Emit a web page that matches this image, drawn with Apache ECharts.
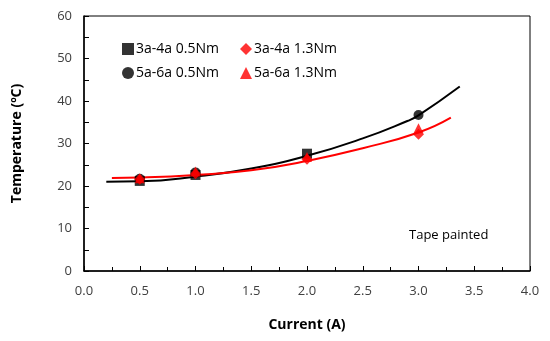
<!DOCTYPE html>
<html><head><meta charset="utf-8">
<script src="https://cdn.jsdelivr.net/npm/echarts@6/dist/echarts.min.js"></script>
<style>html,body{margin:0;padding:0;background:#fff}#c{width:550px;height:341px}</style>
</head><body><div id="c"></div>
<script>
const xTicks = [0, 0.5, 1.0, 1.5, 2.0, 2.5, 3.0, 3.5, 4.0];
const yTicks = [0, 10, 20, 30, 40, 50, 60];
const seriesNames = ['3a-4a 0.5Nm', '5a-6a 0.5Nm', '3a-4a 1.3Nm', '5a-6a 1.3Nm'];
const sq34_05 = [[0.5, 21.2], [1.0, 22.6], [2.0, 27.6]];
const ci56_05 = [[0.5, 21.7], [1.0, 23.2], [3.0, 36.7]];
const di34_13 = [[0.5, 21.6], [1.0, 22.9], [2.0, 26.3], [3.0, 32.2]];
const tr56_13 = [[0.5, 21.8], [1.0, 23.4], [2.0, 26.8], [3.0, 33.6]];
const trendBlack = [[0.2, 21.0], [0.5, 21.1], [1.0, 22.2], [1.5, 24.1], [2.0, 27.1], [2.5, 31.2], [2.9, 35.3], [3.0, 36.6], [3.37, 43.4]];
const trendRed = [[0.25, 21.9], [0.5, 22.0], [1.0, 22.6], [1.5, 23.7], [2.0, 25.9], [2.5, 28.9], [3.0, 32.6], [3.29, 36.1]];
const note = 'Tape painted';

const FONT = 'Open Sans';
const chart = echarts.init(document.getElementById('c'));
chart.setOption({
  animation: false,
  textStyle: {fontFamily: FONT},
  grid: {left: 84, right: 20, top: 16, bottom: 70, show: true, borderColor: '#000', borderWidth: 1, backgroundColor: 'transparent'},
  legend: [
    {orient: 'vertical', left: 117, top: 37, itemGap: 10, itemWidth: 12, itemHeight: 12,
     data: [seriesNames[0], seriesNames[1]], textStyle: {fontFamily: FONT, fontSize: 14, color: '#000', padding: [0, 0, 0, -3]}},
    {orient: 'vertical', left: 235, top: 37, itemGap: 10, itemWidth: 12, itemHeight: 12,
     data: [seriesNames[2], seriesNames[3]], textStyle: {fontFamily: FONT, fontSize: 14, color: '#000', padding: [0, 0, 0, -3]}}
  ],
  xAxis: {
    type: 'value', min: 0, max: 4, interval: 0.5,
    name: 'Current (A)', nameLocation: 'middle', nameGap: 47,
    nameTextStyle: {fontFamily: FONT, fontWeight: 'bold', fontSize: 14, color: '#000'},
    axisLine: {lineStyle: {color: '#000', width: 1.5}},
    axisTick: {inside: true, length: 5, lineStyle: {color: '#000'}},
    minorTick: {show: true, splitNumber: 2, length: 4, lineStyle: {color: '#000'}},
    splitLine: {show: false},
    axisLabel: {formatter: v => v.toFixed(1), fontSize: 13, color: '#404040', margin: 14, fontFamily: FONT}
  },
  yAxis: {
    type: 'value', min: 0, max: 60, interval: 10,
    name: 'Temperature (ºC)', nameLocation: 'middle', nameGap: 60, nameRotate: 90,
    nameTextStyle: {fontFamily: FONT, fontWeight: 'bold', fontSize: 14, color: '#000'},
    axisLine: {show: true, lineStyle: {color: '#000', width: 1.5}},
    axisTick: {inside: true, length: 5, lineStyle: {color: '#000'}},
    minorTick: {show: true, splitNumber: 2, length: 5, lineStyle: {color: '#000'}},
    splitLine: {show: false},
    axisLabel: {fontSize: 13, color: '#404040', margin: 12, fontFamily: FONT}
  },
  series: [
    {type: 'line', data: trendBlack, smooth: true, showSymbol: false, lineStyle: {color: '#000', width: 2}, silent: true, z: 1},
    {type: 'line', data: trendRed, smooth: true, showSymbol: false, lineStyle: {color: '#ff0000', width: 2}, silent: true, z: 1},
    {name: seriesNames[0], type: 'scatter', data: sq34_05, symbol: 'rect', symbolSize: 10, itemStyle: {color: '#000'}, z: 3},
    {name: seriesNames[1], type: 'scatter', data: ci56_05, symbol: 'circle', symbolSize: 10, itemStyle: {color: '#000'}, z: 3},
    {name: seriesNames[2], type: 'scatter', data: di34_13, symbol: 'diamond', symbolSize: 11, itemStyle: {color: '#ff0000'}, z: 4},
    {name: seriesNames[3], type: 'scatter', data: tr56_13, symbol: 'triangle', symbolSize: 10, itemStyle: {color: '#ff0000'}, z: 4}
  ],
  graphic: [
    {type: 'text', left: 409, top: 229, style: {text: note, fontFamily: FONT, fontSize: 13, fill: '#000'}}
  ]
});
</script></body></html>
